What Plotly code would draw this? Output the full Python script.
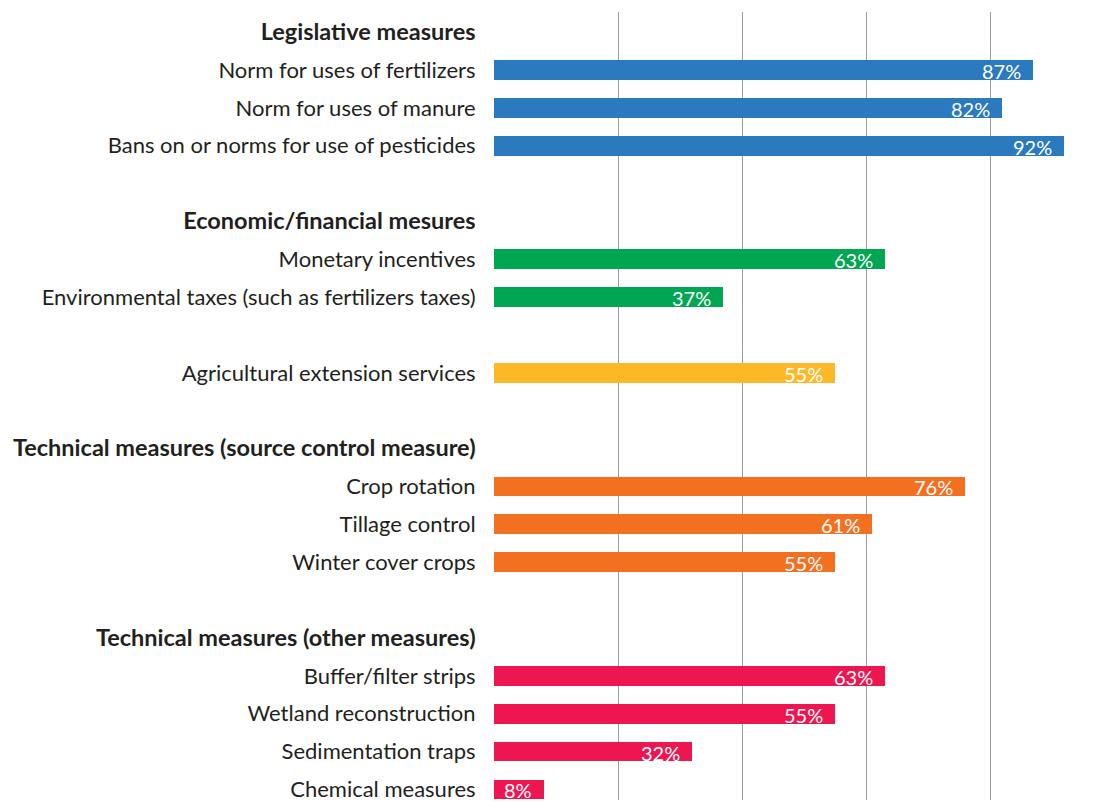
import plotly.graph_objects as go

# Survey share (%) of measures applied, grouped by measure type
headers = [
    "Legislative measures",
    "Economic/financial mesures",
    "Technical measures (source control measure)",
    "Technical measures (other measures)",
]

legislative_labels = [
    "Norm for uses of fertilizers",
    "Norm for uses of manure",
    "Bans on or norms for use of pesticides",
]
legislative_values = [87, 82, 92]

economic_labels = [
    "Monetary incentives",
    "Environmental taxes (such as fertilizers taxes)",
]
economic_values = [63, 37]

extension_labels = ["Agricultural extension services"]
extension_values = [55]

source_labels = ["Crop rotation", "Tillage control", "Winter cover crops"]
source_values = [76, 61, 55]

other_labels = [
    "Buffer/filter strips",
    "Wetland reconstruction",
    "Sedimentation traps",
    "Chemical measures",
]
other_values = [63, 55, 32, 8]

colors = {
    "legislative": "#2b79bf",
    "economic": "#00a651",
    "extension": "#fdb827",
    "source": "#f37021",
    "other": "#ed1651",
}

# Build the row layout: (kind, label, value, group)
rows = []
rows.append(("header", headers[0], None, None))
rows += [("bar", l, v, "legislative") for l, v in zip(legislative_labels, legislative_values)]
rows.append(("blank", "", None, None))
rows.append(("header", headers[1], None, None))
rows += [("bar", l, v, "economic") for l, v in zip(economic_labels, economic_values)]
rows.append(("blank", "", None, None))
rows += [("bar", l, v, "extension") for l, v in zip(extension_labels, extension_values)]
rows.append(("blank", "", None, None))
rows.append(("header", headers[2], None, None))
rows += [("bar", l, v, "source") for l, v in zip(source_labels, source_values)]
rows.append(("blank", "", None, None))
rows.append(("header", headers[3], None, None))
rows += [("bar", l, v, "other") for l, v in zip(other_labels, other_values)]

FONT = "Lato"
TEXT_COLOR = "#231f20"

fig = go.Figure()

for group in colors:
    ys = [i for i, r in enumerate(rows) if r[0] == "bar" and r[3] == group]
    xs = [rows[i][2] for i in ys]
    fig.add_trace(go.Bar(
        x=xs, y=ys, orientation="h", width=0.52,
        marker=dict(color=colors[group], line=dict(width=0)),
        hoverinfo="skip", showlegend=False,
    ))
    for x, y in zip(xs, ys):
        fig.add_annotation(
            x=x, y=y, text=f"{x}%", showarrow=False,
            xanchor="right", yanchor="middle", xshift=-10, yshift=-1,
            font=dict(family=FONT, size=20, color="white"),
        )

tickvals = [i for i, r in enumerate(rows) if r[0] != "blank"]
ticktext = [
    f"<span style='font-size:23.5px'><b>{rows[i][1]}</b></span>" if rows[i][0] == "header" else rows[i][1]
    for i in tickvals
]

fig.update_layout(
    width=1106, height=802,
    margin=dict(l=494, r=0, t=12, b=0),
    plot_bgcolor="white", paper_bgcolor="white",
    bargap=0,
    font=dict(family=FONT, size=22, color=TEXT_COLOR),
    xaxis=dict(
        range=[0, 98.7], tickvals=[0, 20, 40, 60, 80], showticklabels=False,
        showgrid=True, gridcolor="#9d9d9d", gridwidth=1.3,
        zeroline=False, showline=False, fixedrange=True,
    ),
    yaxis=dict(
        range=[20.28, -0.53], tickvals=tickvals, ticktext=ticktext,
        showgrid=False, zeroline=False, showline=False,
        ticks="outside", ticklen=13, tickcolor="rgba(0,0,0,0)",
        tickfont=dict(family=FONT, size=22, color=TEXT_COLOR),
        ticklabeloverflow="allow",
        fixedrange=True,
    ),
)

fig.write_html("out.html")
